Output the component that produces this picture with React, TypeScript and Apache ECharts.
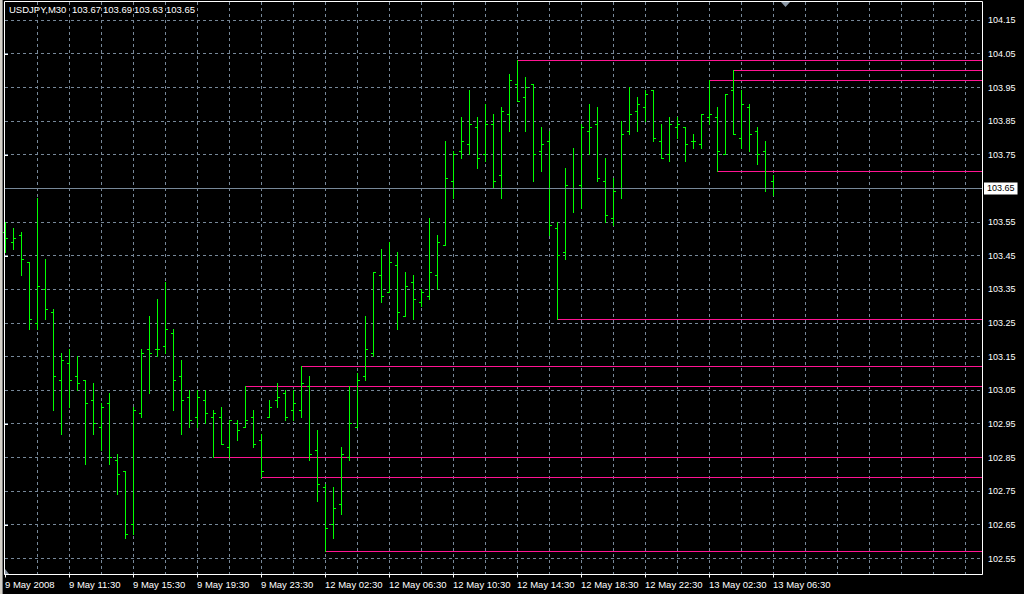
import React, { useEffect, useRef } from 'react';
import * as echarts from 'echarts';

// ---------- data ----------
const symbolName = 'USDJPY,M30';
const lastQuote = ['103.67', '103.69', '103.63', '103.65'];

const opens = [
  103.52, 103.49, 103.51, 103.43, 103.25, 103.35, 103.28, 103.08, 103.13, 103.09,
  103.08, 103.02, 102.94, 103.01, 102.84, 102.81, 102.65, 102.98, 103.17, 103.17,
  103.18, 103.22, 103.09, 103.03, 102.97, 103.02, 102.97, 102.97, 102.88, 102.95,
  102.94, 102.97, 102.90, 102.97, 103.02, 103.04, 102.99, 102.99, 103.06, 102.87,
  102.76, 102.65, 102.71, 102.85, 102.94, 103.09, 103.16, 103.39, 103.34, 103.42,
  103.27, 103.37, 103.31, 103.33, 103.39, 103.48, 103.67, 103.76, 103.78, 103.83,
  103.75, 103.84, 103.69, 103.87, 103.96, 103.92, 103.96, 103.76, 103.79, 103.53,
  103.46, 103.65, 103.66, 103.82, 103.84, 103.67, 103.56, 103.65, 103.82, 103.88,
  103.89, 103.94, 103.79, 103.75, 103.83, 103.83, 103.79, 103.78, 103.86, 103.86,
  103.75, 103.94, 103.80, 103.89, 103.82, 103.76, 103.67,
];
const highs = [
  103.55, 103.53, 103.52, 103.43, 103.62, 103.44, 103.29, 103.16, 103.17, 103.15,
  103.08, 103.07, 103.01, 103.04, 102.86, 102.81, 103.00, 103.17, 103.27, 103.32,
  103.37, 103.23, 103.14, 103.05, 103.05, 103.05, 102.99, 103.00, 102.96, 102.96,
  103.06, 102.99, 102.92, 103.02, 103.07, 103.05, 103.05, 103.12, 103.09, 102.93,
  102.77, 102.76, 102.88, 103.06, 103.10, 103.27, 103.40, 103.47, 103.49, 103.46,
  103.40, 103.39, 103.35, 103.56, 103.51, 103.79, 103.76, 103.86, 103.94, 103.86,
  103.90, 103.87, 103.89, 103.99, 104.03, 103.98, 103.96, 103.83, 103.82, 103.55,
  103.71, 103.77, 103.84, 103.90, 103.89, 103.74, 103.68, 103.85, 103.95, 103.92,
  103.94, 103.94, 103.84, 103.86, 103.86, 103.83, 103.81, 103.87, 103.97, 103.89,
  103.93, 104.00, 103.94, 103.90, 103.83, 103.79, 103.69,
];
const lows = [
  103.46, 103.47, 103.39, 103.23, 103.23, 103.26, 102.99, 102.92, 103.00, 103.05,
  102.83, 102.92, 102.87, 102.83, 102.74, 102.61, 102.62, 102.97, 103.04, 103.15,
  103.16, 102.99, 102.92, 102.94, 102.94, 102.95, 102.85, 102.89, 102.85, 102.90,
  102.94, 102.88, 102.79, 102.97, 103.00, 102.96, 102.96, 102.97, 102.84, 102.72,
  102.57, 102.61, 102.68, 102.84, 102.94, 103.08, 103.15, 103.31, 103.34, 103.23,
  103.27, 103.26, 103.30, 103.32, 103.35, 103.48, 103.62, 103.74, 103.75, 103.71,
  103.73, 103.65, 103.62, 103.82, 103.91, 103.82, 103.67, 103.70, 103.51, 103.26,
  103.44, 103.58, 103.59, 103.75, 103.67, 103.55, 103.54, 103.62, 103.81, 103.82,
  103.85, 103.79, 103.74, 103.73, 103.80, 103.73, 103.77, 103.77, 103.84, 103.70,
  103.75, 103.81, 103.77, 103.76, 103.72, 103.64, 103.63,
];
const closes = [
  103.50, 103.50, 103.44, 103.26, 103.36, 103.29, 103.09, 103.14, 103.08, 103.07,
  103.01, 102.95, 103.00, 102.85, 102.80, 102.62, 102.99, 103.16, 103.16, 103.17,
  103.23, 103.08, 103.02, 102.96, 103.03, 102.98, 102.98, 102.89, 102.96, 102.93,
  102.96, 102.89, 102.81, 103.00, 103.03, 102.97, 103.01, 103.07, 102.86, 102.77,
  102.64, 102.70, 102.86, 102.95, 103.08, 103.17, 103.40, 103.33, 103.43, 103.28,
  103.36, 103.32, 103.34, 103.40, 103.49, 103.68, 103.75, 103.79, 103.84, 103.74,
  103.84, 103.67, 103.88, 103.97, 103.91, 103.95, 103.75, 103.78, 103.54, 103.45,
  103.66, 103.65, 103.83, 103.83, 103.68, 103.57, 103.64, 103.81, 103.87, 103.90,
  103.93, 103.80, 103.74, 103.84, 103.84, 103.78, 103.79, 103.87, 103.87, 103.76,
  103.93, 103.81, 103.90, 103.81, 103.75, 103.65, 103.65,
];

const timeLabels = [
  '9 May 2008', '9 May 11:30', '9 May 15:30', '9 May 19:30', '9 May 23:30',
  '12 May 02:30', '12 May 06:30', '12 May 10:30', '12 May 14:30', '12 May 18:30',
  '12 May 22:30', '13 May 02:30', '13 May 06:30',
];
const labelBars = [0, 8, 16, 24, 32, 40, 48, 56, 64, 72, 80, 88, 96];
const minorTickBars = [4, 12, 20, 28, 36, 44, 52, 60, 68, 76, 84, 92, 100, 104, 108, 112, 116, 120];
const gridBars = [
  4, 8, 12, 16, 20, 24, 28, 32, 36, 40, 44, 48, 52, 56, 60,
  64, 68, 72, 76, 80, 84, 88, 92, 96, 100, 104, 108, 112, 116, 120,
];
const priceTicks = [
  102.55, 102.65, 102.75, 102.85, 102.95, 103.05, 103.15, 103.25, 103.35,
  103.45, 103.55, 103.65, 103.75, 103.85, 103.95, 104.05, 104.15,
];
const levelStartBars = [64, 91, 88, 89, 69, 37, 30, 26, 32, 40];
const levelPrices = [104.03, 104.00, 103.97, 103.70, 103.26, 103.12, 103.06, 102.85, 102.79, 102.57];
const currentPrice = 103.65;

// ---------- component ----------
const FONT = '"Liberation Sans", Arial, sans-serif';
const GREEN = '#00ff00';
const PINK = '#ff1493';
const GRID = '#778899';

export default function App() {
  const ref = useRef<HTMLDivElement>(null);

  useEffect(() => {
    document.body.style.margin = '0';
    document.body.style.background = '#000';
    if (!ref.current) return;
    const chart = echarts.init(ref.current, null, { renderer: 'svg' });

    const X_MAX = 122.125;
    const Y_MIN = 102.50256;
    const Y_MAX = 104.20737;

    const barData = opens.map((o, i) => [i, o, highs[i], lows[i], closes[i]]);
    const levelData = levelStartBars.map((s, k) => [s, levelPrices[k]]);
    const vGridData = gridBars.map((b) => [b, priceTicks[0]]);
    const hGridData = priceTicks.map((p) => [0, p]);

    const option: any = {
      animation: false,
      backgroundColor: '#000',
      grid: { left: 5, top: 1, width: 977, height: 573.5 },
      xAxis: [
        {
          type: 'value',
          min: 0,
          max: X_MAX,
          position: 'bottom',
          axisLine: { show: true, onZero: false, lineStyle: { color: '#fff', width: 1 } },
          axisTick: { show: true, length: 3, customValues: labelBars, lineStyle: { color: '#fff' } },
          axisLabel: {
            show: true,
            customValues: labelBars,
            formatter: (v: number) => {
              const k = labelBars.indexOf(Math.round(v));
              return k >= 0 ? timeLabels[k] : '';
            },
            color: '#fff',
            fontSize: 9.5,
            fontFamily: FONT,
            align: 'left',
            margin: 5,
          },
          splitLine: { show: false },
        },
        {
          type: 'value',
          min: 0,
          max: X_MAX,
          position: 'bottom',
          axisLine: { show: false, onZero: false },
          axisTick: { show: true, inside: true, length: 2, customValues: minorTickBars, lineStyle: { color: '#fff' } },
          axisLabel: { show: false },
          splitLine: { show: false },
        },
      ],
      yAxis: {
        type: 'value',
        min: Y_MIN,
        max: Y_MAX,
        position: 'right',
        axisLine: { show: false },
        axisTick: { show: true, length: 3, customValues: priceTicks, lineStyle: { color: '#fff' } },
        axisLabel: {
          show: true,
          customValues: priceTicks,
          formatter: (v: number) => v.toFixed(2),
          color: '#fff',
          fontSize: 9,
          fontFamily: FONT,
          margin: 6,
        },
        splitLine: { show: false },
      },
      graphic: [
        { type: 'rect', shape: { x: 0, y: 0, width: 2, height: 594 }, style: { fill: '#d4d0c8' }, z: 10 },
        { type: 'rect', shape: { x: 2, y: 0, width: 1, height: 594 }, style: { fill: '#808080' }, z: 10 },
        {
          type: 'rect',
          shape: { x: 4.5, y: 1.5, width: 978, height: 573 },
          style: { fill: 'none', stroke: '#fff', lineWidth: 1 },
          z: 10,
          silent: true,
        },
        { type: 'polygon', shape: { points: [[781, 2], [790, 2], [785.5, 7]] }, style: { fill: '#8a96a4' }, z: 11 },
        { type: 'polygon', shape: { points: [[5, 569], [5, 574], [9, 574]] }, style: { fill: '#8a96a4' }, z: 11 },
        { type: 'text', x: 9, y: 9, style: { text: symbolName, fill: '#fff', font: `9.5px ${FONT}`, verticalAlign: 'middle' }, z: 12 },
        { type: 'text', x: 72, y: 9, style: { text: lastQuote[0], fill: '#fff', font: `9.5px ${FONT}`, verticalAlign: 'middle' }, z: 12 },
        { type: 'text', x: 103, y: 9, style: { text: lastQuote[1], fill: '#fff', font: `9.5px ${FONT}`, verticalAlign: 'middle' }, z: 12 },
        { type: 'text', x: 134, y: 9, style: { text: lastQuote[2], fill: '#fff', font: `9.5px ${FONT}`, verticalAlign: 'middle' }, z: 12 },
        { type: 'text', x: 166, y: 9, style: { text: lastQuote[3], fill: '#fff', font: `9.5px ${FONT}`, verticalAlign: 'middle' }, z: 12 },
      ],
      series: [
        {
          type: 'custom',
          name: 'vgrid',
          silent: true,
          data: vGridData,
          encode: { x: 0, y: 1 },
          renderItem: (params: any, api: any) => {
            const cs = params.coordSys;
            const pt = api.coord([api.value(0), api.value(1)]);
            const x = Math.floor(pt[0]) + 0.5;
            return {
              type: 'line',
              shape: { x1: x, y1: cs.y + 1, x2: x, y2: cs.y + cs.height - 0.5 },
              style: { stroke: GRID, lineWidth: 1, lineDash: [3, 3] },
            };
          },
          z: 1,
        },
        {
          type: 'custom',
          name: 'hgrid',
          silent: true,
          data: hGridData,
          encode: { x: 0, y: 1 },
          renderItem: (params: any, api: any) => {
            const cs = params.coordSys;
            const pt = api.coord([api.value(0), api.value(1)]);
            const y = Math.floor(pt[1]) + 0.5;
            return {
              type: 'line',
              shape: { x1: cs.x, y1: y, x2: cs.x + cs.width, y2: y },
              style: { stroke: GRID, lineWidth: 1, lineDash: [3, 3] },
            };
          },
          z: 1,
        },
        {
          type: 'line',
          name: 'price',
          data: [[0, currentPrice]],
          showSymbol: false,
          symbol: 'none',
          lineStyle: { width: 0 },
          silent: true,
          z: 2,
          markLine: {
            silent: true,
            symbol: ['none', 'none'],
            data: [{ yAxis: currentPrice }],
            lineStyle: { color: GRID, width: 1, type: 'solid' },
            label: {
              show: true,
              position: 'end',
              formatter: currentPrice.toFixed(2),
              color: '#000',
              backgroundColor: '#fff',
              padding: [2, 3, 1, 3],
              fontSize: 9,
              fontFamily: FONT,
              distance: 2,
            },
          },
        },
        {
          type: 'custom',
          name: 'levels',
          silent: true,
          data: levelData,
          encode: { x: 0, y: 1 },
          renderItem: (params: any, api: any) => {
            const cs = params.coordSys;
            const pt = api.coord([api.value(0), api.value(1)]);
            const y = Math.floor(pt[1]) + 0.5;
            return {
              type: 'line',
              shape: { x1: Math.floor(pt[0]), y1: y, x2: cs.x + cs.width, y2: y },
              style: { stroke: PINK, lineWidth: 1 },
            };
          },
          z: 3,
        },
        {
          type: 'custom',
          name: symbolName,
          silent: true,
          data: barData,
          encode: { x: 0, y: [1, 2, 3, 4] },
          renderItem: (params: any, api: any) => {
            const i = api.value(0);
            const o = api.coord([i, api.value(1)]);
            const h = api.coord([i, api.value(2)]);
            const l = api.coord([i, api.value(3)]);
            const c = api.coord([i, api.value(4)]);
            const px = Math.floor(o[0] + 0.001);
            const x = px + 0.5;
            const yTop = Math.floor(h[1]);
            const yBot = Math.floor(l[1]) + 1;
            const yo = Math.floor(o[1]) + 0.5;
            const yc = Math.floor(c[1]) + 0.5;
            const st = { stroke: GREEN, lineWidth: 1 };
            return {
              type: 'group',
              children: [
                { type: 'line', shape: { x1: x, y1: yTop, x2: x, y2: yBot }, style: st },
                { type: 'line', shape: { x1: px - 2, y1: yo, x2: px, y2: yo }, style: st },
                { type: 'line', shape: { x1: px + 1, y1: yc, x2: px + 3, y2: yc }, style: st },
              ],
            };
          },
          z: 4,
        },
      ],
    };

    chart.setOption(option);
    return () => chart.dispose();
  }, []);

  return <div ref={ref} style={{ width: 1024, height: 594, background: '#000' }} />;
}
